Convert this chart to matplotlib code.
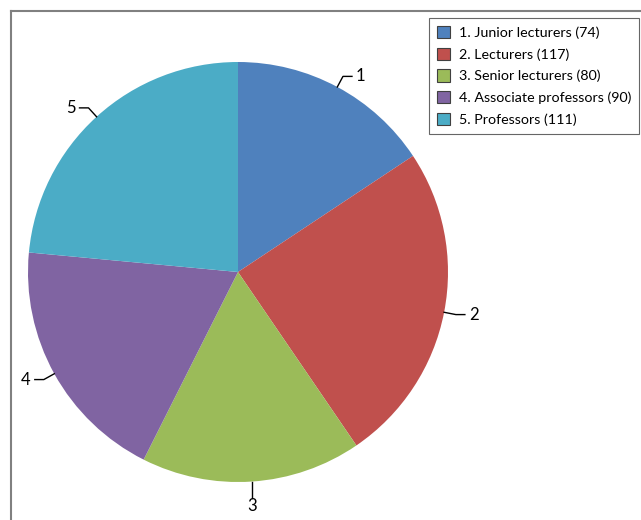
import numpy as np
import matplotlib
matplotlib.use("Agg")
import matplotlib.pyplot as plt
from matplotlib.lines import Line2D
from matplotlib.patches import Patch

# Staff by rank
labels = ["1. Junior lecturers", "2. Lecturers", "3. Senior lecturers",
          "4. Associate professors", "5. Professors"]
short_labels = ["1", "2", "3", "4", "5"]
counts = [74, 117, 80, 90, 111]
colors = ["#4F81BD", "#C0504D", "#9BBB59", "#8064A2", "#4BACC6"]

W, H = 641, 520
plt.rcParams["font.family"] = ["Lato", "DejaVu Sans"]

fig = plt.figure(figsize=(W / 100, H / 100), dpi=100)
ax = fig.add_axes([0, 0, 1, 1])

cx, cy, r = 238, H - 272, 210
wedges, _ = ax.pie(counts, colors=colors, startangle=90, counterclock=False,
                   center=(cx, cy), radius=r, frame=True)
ax.set_xlim(0, W)
ax.set_ylim(0, H)
ax.set_aspect("equal")
ax.axis("off")

# leader lines and numeric labels
for w, lab in zip(wedges, short_labels):
    ang = np.deg2rad((w.theta1 + w.theta2) / 2)
    c, s = np.cos(ang), np.sin(ang)
    x0, y0 = cx + r * c, cy + r * s
    x1, y1 = cx + (r + 12) * c, cy + (r + 12) * s
    if abs(c) < 0.2:
        ax.plot([x0, x0], [y0, y0 - 16], color="black", lw=1)
        ax.text(x0, y0 - 24, lab, ha="center", va="center", fontsize=12)
    else:
        d = 1 if c > 0 else -1
        ax.plot([x0, x1, x1 + d * 9], [y0, y1, y1], color="black", lw=1)
        ax.text(x1 + d * 13, y1, lab, ha="left" if d > 0 else "right",
                va="center", fontsize=12)

# outer frame
fig.add_artist(Line2D([11 / W, 11 / W], [0, 1 - 11 / H], transform=fig.transFigure,
                      color="#808080", lw=1.5))
fig.add_artist(Line2D([11 / W, 1], [1 - 11 / H, 1 - 11 / H], transform=fig.transFigure,
                      color="#808080", lw=1.5))

handles = [Patch(facecolor=col, edgecolor="#404040", lw=0.8) for col in colors]
leg_labels = [f"{l} ({v})" for l, v in zip(labels, counts)]
leg = fig.legend(handles, leg_labels, loc="upper left",
                 bbox_to_anchor=(429 / W, 1 - 18 / H), fontsize=10.3,
                 frameon=True, fancybox=False, edgecolor="#404040",
                 handlelength=0.95, handleheight=0.95, handletextpad=0.6,
                 labelspacing=0.6, borderpad=0.55, borderaxespad=0)
leg.get_frame().set_linewidth(0.8)

fig.savefig("out.png", dpi=100)
